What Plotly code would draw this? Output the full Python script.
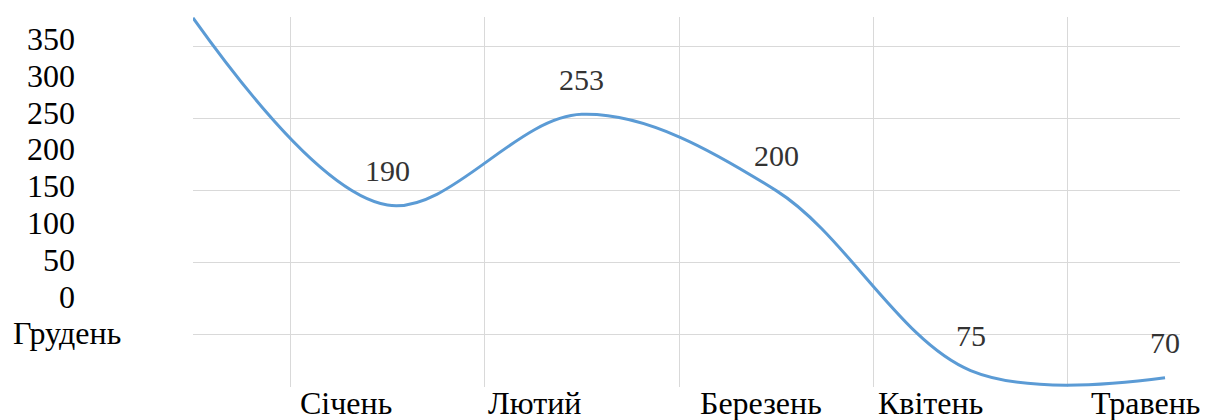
import plotly.graph_objects as go

# ---- data ----
months = ["Грудень", "Січень", "Лютий", "Березень", "Квітень", "Травень"]
values = [320, 190, 253, 200, 75, 70]
shown_labels = [False, True, True, True, True, True]
y_tick_labels = ["350", "300", "250", "200", "150", "100", "50", "0"]

# ---- layout geometry (pixels) ----
W, H = 1209, 420
ML, MR, MT, MB = 193, 29, 17, 33
PW, PH = W - ML - MR, H - MT - MB

def px_x(x):
    return (x - ML) / PW

def px_y(y):
    return (H - MB - y) / PH

FONT = "Liberation Serif"

fig = go.Figure()
fig.add_trace(go.Scatter(
    x=months, y=values, mode="lines",
    line=dict(color="#5B9BD5", width=3, shape="spline", smoothing=1.0),
    hoverinfo="skip", showlegend=False,
))

annotations = []
# data labels above points
for m, v, s in zip(months, values, shown_labels):
    if s:
        annotations.append(dict(
            x=m, y=v, xref="x", yref="y", text=str(v), showarrow=False,
            yshift=35, font=dict(family=FONT, size=30, color="#333333"),
        ))

# misplaced value labels on the left, stacked as a text column
line_h = 36.8
top_c = 39
for i, t in enumerate(y_tick_labels):
    annotations.append(dict(
        x=px_x(77), y=px_y(top_c + i * line_h), xref="paper", yref="paper",
        text=t, showarrow=False, xanchor="right", yanchor="middle",
        font=dict(family=FONT, size=32, color="#000000"),
    ))
annotations.append(dict(
    x=px_x(67.5), y=px_y(top_c + len(y_tick_labels) * line_h),
    xref="paper", yref="paper", text=months[0], showarrow=False,
    xanchor="center", yanchor="middle",
    font=dict(family=FONT, size=32, color="#000000"),
))

# category labels along the bottom
bottom_centers = [346, 534, 761, 930, 1145]
for m, cx in zip(months[1:], bottom_centers):
    annotations.append(dict(
        x=px_x(cx), y=px_y(403), xref="paper", yref="paper", text=m,
        showarrow=False, xanchor="center", yanchor="middle", borderpad=0,
        font=dict(family=FONT, size=32, color="#000000"),
    ))

fig.update_layout(
    width=W, height=H,
    margin=dict(l=ML, r=MR, t=MT, b=MB, pad=0),
    paper_bgcolor="white", plot_bgcolor="white",
    xaxis=dict(
        type="category", categoryorder="array", categoryarray=months,
        range=[0, 5.077], tickson="boundaries", showgrid=True,
        gridcolor="#d9d9d9", gridwidth=1, showticklabels=False,
        ticks="", showline=False, zeroline=False, fixedrange=True,
    ),
    yaxis=dict(
        range=[63.6, 320.6], tick0=0, dtick=50, showgrid=True,
        gridcolor="#d9d9d9", gridwidth=1, showticklabels=False,
        ticks="", showline=False, zeroline=False, fixedrange=True,
    ),
    annotations=annotations,
)

fig.write_html("out.html")
